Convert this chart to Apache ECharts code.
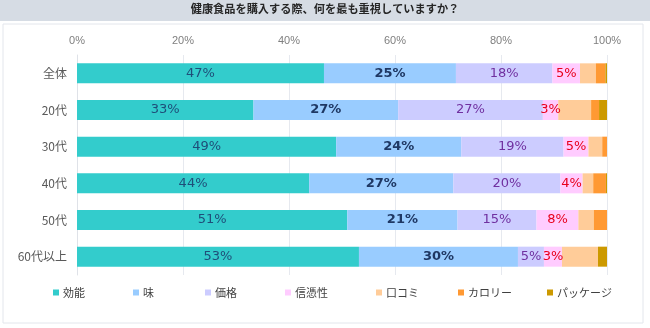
<!DOCTYPE html>
<html><head><meta charset="utf-8">
<script src="https://cdn.jsdelivr.net/npm/echarts@6/dist/echarts.min.js"></script>
<style>html,body{margin:0;padding:0;background:#fff}#c{width:650px;height:328px}</style>
</head><body><div id="c"></div>
<script>
const titleText = '健康食品を購入する際、何を最も重視していますか？';
const categories = ['全体', '20代', '30代', '40代', '50代', '60代以上'];
const seriesNames = ['効能', '味', '価格', '信憑性', '口コミ', 'カロリー', 'パッケージ'];
const efficacy = [46.6, 33.3, 48.9, 43.8, 51.0, 53.2];
const taste = [24.9, 27.3, 23.6, 27.2, 20.8, 30.0];
const price = [18.2, 27.3, 19.3, 20.2, 14.9, 4.9];
const credibility = [5.2, 2.9, 4.7, 4.2, 7.9, 3.4];
const reviews = [3.0, 6.2, 2.6, 2.0, 2.9, 6.8];
const calories = [1.8, 1.5, 0.9, 2.4, 2.5, 0];
const packaging = [0.3, 1.5, 0, 0.2, 0, 1.7];
const xTicks = [0, 20, 40, 60, 80, 100];

const values = [efficacy, taste, price, credibility, reviews, calories, packaging];
const colors = ['#33cccc', '#99ccff', '#ccccff', '#ffccff', '#ffcc99', '#ff9933', '#cc9900'];
const labelColors = ['#1f4e79', '#1f3864', '#7030a0', '#e8001c', null, null, null];
const labelBold = ['normal', 'bold', 'normal', 'normal'];
const legendLeft = [53, 133, 205, 285, 376, 458, 547];

const chart = echarts.init(document.getElementById('c'), null, {renderer: 'canvas'});
const series = values.map((v, i) => ({
  name: seriesNames[i], type: 'bar', stack: 'total', data: v, barWidth: 20,
  itemStyle: {color: colors[i]},
  label: labelColors[i] ? {
    show: true, position: 'inside', color: labelColors[i],
    fontSize: 13, fontWeight: labelBold[i], fontFamily: 'DejaVu Sans, Noto Sans CJK JP',
    formatter: p => p.value > 0 ? Math.round(p.value) + '%' : ''
  } : {show: false}
}));
const legends = seriesNames.map((n, i) => ({
  data: [n], left: legendLeft[i], top: 287, padding: 0,
  icon: 'rect', itemWidth: 6, itemHeight: 6, itemGap: 4,
  textStyle: {fontSize: 11, color: '#404040', fontFamily: 'Noto Sans CJK JP', padding: [0,0,0,-1]},
  selectedMode: false
}));
chart.setOption({
  animation: false,
  textStyle: {fontFamily: 'Noto Sans CJK JP'},
  graphic: [
    {type: 'rect', left: 0, top: 0, shape: {width: 650, height: 21}, style: {fill: '#d6dce4'}, z: -10},
    {type: 'rect', left: 0.5, top: 21.5, shape: {width: 640, height: 299}, style: {fill: 'none', stroke: '#e3e6ec', lineWidth: 1}, z: -10}
  ],
  title: {text: titleText, left: 'center', top: 3, padding: 0,
    textStyle: {fontSize: 11.2, fontWeight: 'bold', color: '#262626', fontFamily: 'Noto Sans CJK JP'}},
  legend: legends,
  grid: {left: 77, right: 43, top: 55, bottom: 53},
  xAxis: {
    type: 'value', position: 'top', min: 0, max: 100, interval: 20,
    axisLine: {show: false}, axisTick: {show: false},
    axisLabel: {formatter: v => xTicks.includes(v) ? v + '%' : '', color: '#7f7f7f', fontSize: 11, margin: 9, fontFamily: 'Liberation Sans'},
    splitLine: {lineStyle: {color: '#e6e9ef', width: 1}}
  },
  yAxis: {
    type: 'category', data: categories, inverse: true,
    axisLine: {lineStyle: {color: '#dfe2e8'}}, axisTick: {show: false},
    axisLabel: {color: '#595959', fontSize: 12, margin: 10, fontFamily: 'Noto Sans CJK JP'}
  },
  series: series
});
</script></body></html>
